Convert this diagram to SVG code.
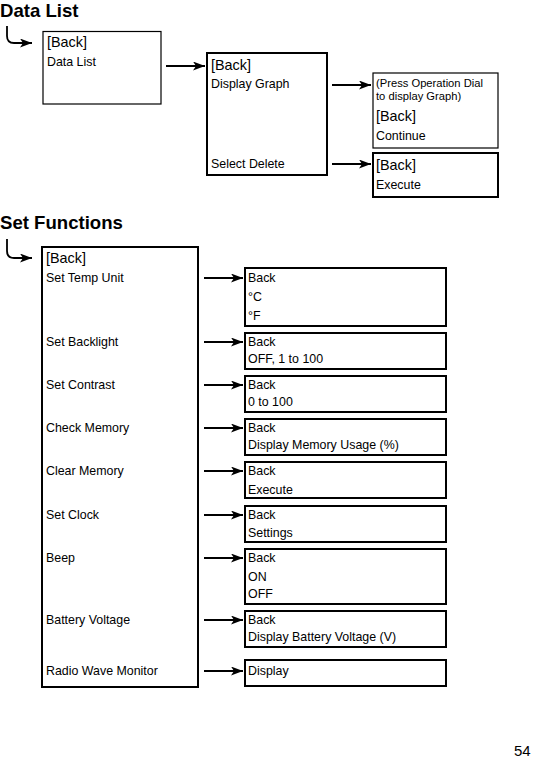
<svg xmlns="http://www.w3.org/2000/svg" width="533" height="759" viewBox="0 0 533 759">
<defs>
<style>
text{font-family:"Liberation Sans",Arial,sans-serif;fill:#000}
.h{font-size:18.6px;font-weight:bold}
.b{font-size:14.4px}
.t{font-size:12.4px}
.s{font-size:11.2px}
.box{fill:#fff;stroke:#000;stroke-width:1.2}
.box2{fill:#fff;stroke:#000;stroke-width:2}
.c{fill:none;stroke:#000;stroke-width:1.8}
</style>
<marker id="ah" viewBox="0 0 12 9" refX="12" refY="4.5" markerWidth="12" markerHeight="9" markerUnits="userSpaceOnUse" orient="auto">
<path d="M0,0 L12,4.5 L0,9 L3,4.5 Z" fill="#000"/>
</marker>
</defs>
<rect width="533" height="759" fill="#fff"/>
<text class="h" x="0" y="17">Data List</text>
<text class="h" x="0" y="229">Set Functions</text>
<text x="514" y="756" style="font-size:15px">54</text>

<g id="connectors">
<path class="c" d="M7,26 V36 Q7,43 14,43 H32" marker-end="url(#ah)"/>
<path class="c" d="M7,239 V251 Q7,258 14,258 H32" marker-end="url(#ah)"/>
<path class="c" d="M166,66 H205" marker-end="url(#ah)"/>
<path class="c" d="M332,85 H371" marker-end="url(#ah)"/>
<path class="c" d="M332,164 H371" marker-end="url(#ah)"/>
<path class="c" d="M204,278 H243" marker-end="url(#ah)"/>
<path class="c" d="M204,342 H243" marker-end="url(#ah)"/>
<path class="c" d="M204,385 H243" marker-end="url(#ah)"/>
<path class="c" d="M204,428 H243" marker-end="url(#ah)"/>
<path class="c" d="M204,471 H243" marker-end="url(#ah)"/>
<path class="c" d="M204,515 H243" marker-end="url(#ah)"/>
<path class="c" d="M204,558 H243" marker-end="url(#ah)"/>
<path class="c" d="M204,620 H243" marker-end="url(#ah)"/>
<path class="c" d="M204,671 H243" marker-end="url(#ah)"/>
</g>

<g id="dl-main">
<rect class="box" x="43" y="31.5" width="118" height="72.5"/>
<text class="b" x="47" y="47">[Back]</text>
<text class="t" x="47" y="66">Data List</text>
</g>
<g id="dl-graph">
<rect class="box2" x="207" y="53" width="120" height="122"/>
<text class="b" x="211" y="70">[Back]</text>
<text class="t" x="211" y="88">Display Graph</text>
<text class="t" x="211" y="168">Select Delete</text>
</g>
<g id="dl-continue">
<rect class="box" x="373" y="73" width="125" height="75"/>
<text class="s" x="376" y="87">(Press Operation Dial</text>
<text class="s" x="376" y="100">to display Graph)</text>
<text class="b" x="376" y="121">[Back]</text>
<text class="t" x="376" y="140">Continue</text>
</g>
<g id="dl-execute">
<rect class="box2" x="373" y="153" width="125" height="44"/>
<text class="b" x="376" y="170">[Back]</text>
<text class="t" x="376" y="189">Execute</text>
</g>

<g id="sf-main">
<rect class="box2" x="42" y="247" width="156" height="440"/>
<text class="b" x="46" y="263">[Back]</text>
<text class="t" x="46" y="282">Set Temp Unit</text>
<text class="t" x="46" y="346">Set Backlight</text>
<text class="t" x="46" y="389">Set Contrast</text>
<text class="t" x="46" y="432">Check Memory</text>
<text class="t" x="46" y="475">Clear Memory</text>
<text class="t" x="46" y="519">Set Clock</text>
<text class="t" x="46" y="562">Beep</text>
<text class="t" x="46" y="624">Battery Voltage</text>
<text class="t" x="46" y="675">Radio Wave Monitor</text>
</g>
<g id="sf-temp">
<rect class="box2" x="245" y="268" width="201" height="58"/>
<text class="t" x="248" y="282">Back</text>
<text class="t" x="248" y="301">°C</text>
<text class="t" x="248" y="320">°F</text>
</g>
<g id="sf-backlight">
<rect class="box2" x="245" y="333" width="201" height="36"/>
<text class="t" x="248" y="346">Back</text>
<text class="t" x="248" y="363">OFF, 1 to 100</text>
</g>
<g id="sf-contrast">
<rect class="box2" x="245" y="376" width="201" height="36"/>
<text class="t" x="248" y="389">Back</text>
<text class="t" x="248" y="406">0 to 100</text>
</g>
<g id="sf-memory">
<rect class="box2" x="245" y="419" width="201" height="36"/>
<text class="t" x="248" y="432">Back</text>
<text class="t" x="248" y="449">Display Memory Usage (%)</text>
</g>
<g id="sf-clear">
<rect class="box2" x="245" y="462" width="201" height="36"/>
<text class="t" x="248" y="475">Back</text>
<text class="t" x="248" y="494">Execute</text>
</g>
<g id="sf-clock">
<rect class="box2" x="245" y="506" width="201" height="36"/>
<text class="t" x="248" y="519">Back</text>
<text class="t" x="248" y="537">Settings</text>
</g>
<g id="sf-beep">
<rect class="box2" x="245" y="549" width="201" height="55"/>
<text class="t" x="248" y="562">Back</text>
<text class="t" x="248" y="581">ON</text>
<text class="t" x="248" y="598">OFF</text>
</g>
<g id="sf-battery">
<rect class="box2" x="245" y="611" width="201" height="36"/>
<text class="t" x="248" y="624">Back</text>
<text class="t" x="248" y="641">Display Battery Voltage (V)</text>
</g>
<g id="sf-radio">
<rect class="box2" x="245" y="660" width="201" height="26"/>
<text class="t" x="248" y="675">Display</text>
</g>
</svg>
